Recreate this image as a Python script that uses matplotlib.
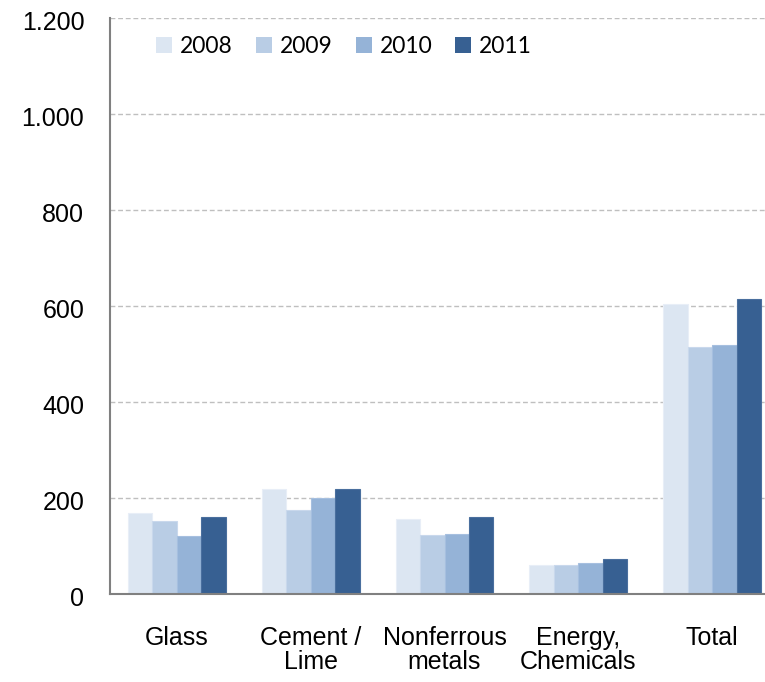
import matplotlib
matplotlib.use("Agg")
import matplotlib.pyplot as plt
import matplotlib.transforms as mtransforms
import numpy as np

categories = ["Glass", "Cement /\nLime", "Nonferrous\nmetals", "Energy,\nChemicals", "Total"]
years = ["2008", "2009", "2010", "2011"]
v2008 = [169, 218, 156, 60, 605]
v2009 = [152, 176, 122, 60, 514]
v2010 = [121, 201, 126, 64, 518]
v2011 = [160, 218, 160, 72, 614]
series = [v2008, v2009, v2010, v2011]
colors = ["#DCE6F2", "#B9CDE5", "#95B3D7", "#376092"]
edges = ["#E8EEF7", "#C9D8EC", "#A6BFDF", "#4A6F9E"]

fig = plt.figure(figsize=(7.65, 6.82), dpi=100)
W, H = 765, 682
left, right, bottom, top = 110, 779, 594, 18
ax = fig.add_axes([left / W, (H - bottom) / H, (right - left) / W, (bottom - top) / H])

x = np.arange(len(categories))
bw = 0.183
for i, (vals, c, ec) in enumerate(zip(series, colors, edges)):
    ax.bar(x + (i - 1.5) * bw, vals, width=bw, color=c, edgecolor=ec, linewidth=0.8,
           label=years[i], zorder=3)

ax.set_xlim(-0.5, 4.5)
ax.set_ylim(0, 1200)
ax.set_yticks(range(0, 1201, 200))
ax.set_yticklabels(["0", "200", "400", "600", "800", "1.000", "1.200"],
                   fontsize=18, family="Liberation Sans")
ax.set_xticks(x)
ax.set_xticklabels(categories, fontsize=18, family="Liberation Sans", linespacing=0.98)
ax.tick_params(axis="y", length=0, pad=18.5)
ax.tick_params(axis="x", length=0, pad=23)
off = mtransforms.ScaledTranslation(0, -3 / 100, fig.dpi_scale_trans)
for lab in ax.get_yticklabels():
    lab.set_transform(lab.get_transform() + off)
ax.yaxis.grid(True, linestyle=(0, (3.5, 2)), color="#BFBFBF", linewidth=1.0, zorder=0)
ax.set_axisbelow(True)
for s in ["top", "right"]:
    ax.spines[s].set_visible(False)
for s in ["left", "bottom"]:
    ax.spines[s].set_color("#808080")
    ax.spines[s].set_linewidth(1.5)
    ax.spines[s].set_zorder(4)

leg = ax.legend(loc="upper left", bbox_to_anchor=(0.038, 1.005), ncol=4, frameon=False,
                prop={"family": "Lato", "size": 16.5}, handlelength=0.7, handleheight=0.7,
                handletextpad=0.35, columnspacing=1.0, borderaxespad=0.5)
for h in leg.legend_handles:
    h.set_edgecolor("none")

fig.savefig("out.png", dpi=100)
